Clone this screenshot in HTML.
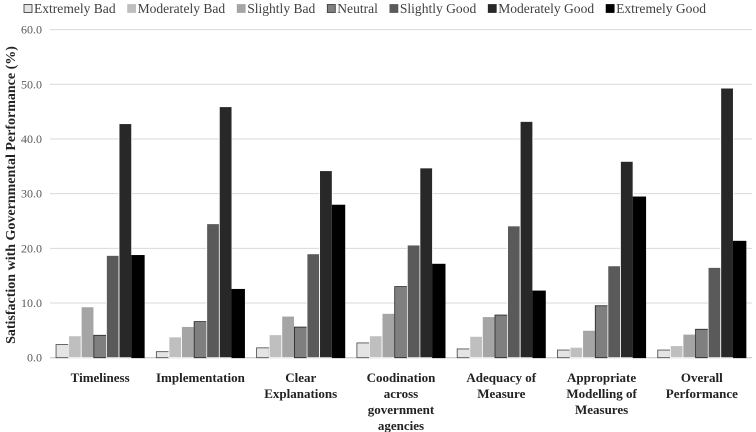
<!DOCTYPE html><html><head><meta charset="utf-8"><style>
body{margin:0;background:#fff;}svg{display:block;}
</style></head><body>
<svg id="c" width="756" height="432" font-family="'Liberation Serif', serif"></svg>
<script>
const categories=[["Timeliness"],["Implementation"],["Clear","Explanations"],["Coodination","across","government","agencies"],["Adequacy of","Measure"],["Appropriate","Modelling of","Measures"],["Overall","Performance"]];
const seriesNames=["Extremely Bad","Moderately Bad","Slightly Bad","Neutral","Slightly Good","Moderately Good","Extremely Good"];
const extremelyBad=[2.4,1.1,1.8,2.7,1.6,1.4,1.4];
const moderatelyBad=[4.0,3.8,4.2,4.0,3.9,1.9,2.2];
const slightlyBad=[9.3,5.7,7.6,8.1,7.5,5.0,4.3];
const neutral=[4.1,6.6,5.6,13.0,7.8,9.5,5.2];
const slightlyGood=[18.7,24.5,19.0,20.6,24.1,16.8,16.5];
const moderatelyGood=[42.8,45.9,34.2,34.7,43.2,35.9,49.3];
const extremelyGood=[18.7,12.5,27.9,17.1,12.2,29.4,21.3];
const yTicks=[0,10,20,30,40,50,60];
const series=[extremelyBad,moderatelyBad,slightlyBad,neutral,slightlyGood,moderatelyGood,extremelyGood];
const fills=["#e4e4e4","#bfbfbf","#a5a5a5","#7f7f7f","#5a5a5a","#282828","#000"];
const strokes=["#444","#fff","#fff","#222","#fff","#fff","#000"];
const NS="http://www.w3.org/2000/svg",svg=document.getElementById('c');
const x0=50,x1=752,yBase=357.7,yTop=29.6;
const y=v=>yBase-(v/60)*(yBase-yTop);
const cw=(x1-x0)/categories.length,bw=12.6;
const SERIF="'Liberation Serif', 'Times New Roman', serif";
function mk(t,a,txt){const e=document.createElementNS(NS,t);for(const k in a)e.setAttribute(k,a[k]);if(t==='text')e.setAttribute('font-family',SERIF);if(txt!=null)e.textContent=txt;svg.appendChild(e);return e;}
yTicks.forEach(t=>{
 const g=mk('line',{x1:x0,x2:x1,y1:y(t),y2:y(t),stroke:t?"#d9d9d9":"#bfbfbf","stroke-width":1});
 
 
 const l=mk('text',{x:42,y:y(t)+4,"text-anchor":"end","font-size":12,fill:"#595959"},t.toFixed(1));
 
 
});
categories.forEach((c,i)=>{
 const cx=x0+cw*(i+0.5);
 series.forEach((s,j)=>{
  const bx=cx-3.5*bw+j*bw;
  const r=mk('rect',{x:bx,y:y(s[i]),width:bw,height:yBase-y(s[i]),fill:fills[j],stroke:strokes[j],"stroke-width":0.8});
  
  
 });
 c.forEach((ln,k)=>{
  const t=mk('text',{x:cx,y:382+k*16,"text-anchor":"middle","font-size":13,"font-weight":"bold",fill:"#222"},ln);
  
  
 });
});
const yt=mk('text',{x:0,y:0,transform:"translate(15,195) rotate(-90)","text-anchor":"middle","font-size":14,"font-weight":"bold",fill:"#222"},"Satisfaction with Governmental Performance (%)");


// legend: fit between x=24 and x=706
const texts=[];let natural=0;
seriesNames.forEach((n,j)=>{
 const t=mk('text',{x:0,y:13,"font-size":13.5,fill:"#404040"},n);
 
 
 const w=t.getComputedTextLength();texts.push([t,w]);natural+=w;
});
const gap=12,sw=10;
const avail=706-24-7*sw-6*gap;
const k=avail/natural;
let lx=24;
texts.forEach(([t,w],j)=>{
 const r=mk('rect',{x:lx,y:4.5,width:8,height:8,fill:fills[j],stroke:j==0||j==3?"#333":fills[j],"stroke-width":0.8});
 
 
 t.setAttribute('x',lx+sw);
 t.setAttribute('textLength',w*k);
 t.setAttribute('lengthAdjust','spacingAndGlyphs');
 lx+=sw+w*k+gap;
});
</script>
</body></html>
